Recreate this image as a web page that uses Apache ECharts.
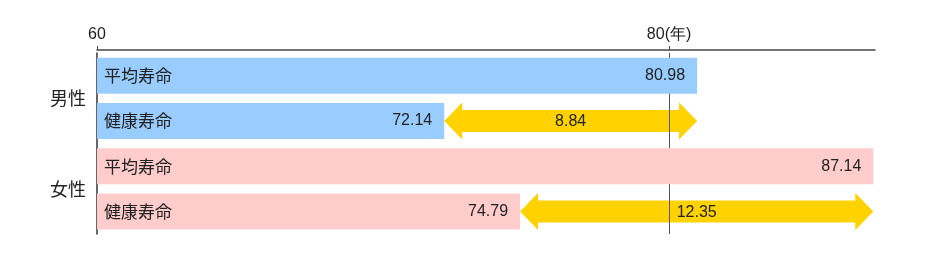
<!DOCTYPE html>
<html>
<head>
<meta charset="utf-8">
<script src="https://cdn.jsdelivr.net/npm/echarts@6/dist/echarts.min.js"></script>
<style>html,body{margin:0;padding:0;background:#fff;}#c{width:935px;height:274px;}</style>
</head>
<body>
<div id="c"></div>
<script>
// ---- data ----
const groups = ['男性', '女性'];
const measures = ['平均寿命', '健康寿命'];
const lifeExpectancy = [80.98, 87.14];
const healthyLife = [72.14, 74.79];
const gaps = [8.84, 12.35];
const xTicks = [60, 80];
const xUnit = '(年)';

// ---- build rows ----
const rowNames = [];
const rowValues = [];
const rowGroup = [];
groups.forEach((g, i) => {
  rowNames.push(g + measures[0]); rowValues.push(lifeExpectancy[i]); rowGroup.push(i);
  rowNames.push(g + measures[1]); rowValues.push(healthyLife[i]); rowGroup.push(i);
});
const rowLabels = rowNames.map((n, i) => measures[i % 2]);
const groupColors = ['#99CCFF', '#FFCCCC'];
const arrowData = groups.map((g, i) => [healthyLife[i], lifeExpectancy[i], i * 2 + 1, gaps[i]]);

const jpFont = "'Noto Sans CJK JP', sans-serif";
const numFont = "'Liberation Sans', Arial, sans-serif";

const chart = echarts.init(document.getElementById('c'), null, {renderer: 'canvas'});
chart.setOption({
  animation: false,
  backgroundColor: '#fff',
  grid: {left: 97, right: 60, top: 53, height: 181},
  xAxis: {
    type: 'value', position: 'top', min: xTicks[0], max: 87.2, interval: xTicks[1] - xTicks[0],
    offset: 3,
    axisLine: {show: true, lineStyle: {color: '#444', width: 1.5}},
    axisTick: {show: true, length: 4, lineStyle: {color: '#444'}, customValues: xTicks},
    axisLabel: {
      show: true, margin: 7, color: '#222', fontSize: 16, fontFamily: numFont,
      customValues: xTicks,
      formatter: v => v === xTicks[1] ? v + xUnit : String(v)
    },
    splitLine: {show: false}
  },
  yAxis: [
    {
      type: 'category', data: rowNames, inverse: true,
      axisLine: {show: true, lineStyle: {color: '#333', width: 1.5}},
      axisTick: {show: false}, axisLabel: {show: false}, splitLine: {show: false}
    },
    {
      type: 'category', data: groups, inverse: true, position: 'left',
      axisLine: {show: false}, axisTick: {show: false},
      axisLabel: {show: true, margin: 11, color: '#222', fontSize: 18, fontFamily: jpFont}
    }
  ],
  series: [
    {
      type: 'bar', yAxisIndex: 0, barWidth: 36, z: 6,
      data: rowValues.map((v, i) => ({value: v, itemStyle: {color: groupColors[rowGroup[i]]}})),
      label: {
        show: true, position: 'insideLeft', distance: 7, color: '#222',
        fontSize: 17, fontFamily: jpFont,
        formatter: p => rowLabels[p.dataIndex]
      }
    },
    {
      type: 'bar', yAxisIndex: 0, barWidth: 36, barGap: '-100%', z: 7,
      data: rowValues,
      itemStyle: {color: 'rgba(0,0,0,0)'},
      label: {
        show: true, position: 'insideRight', distance: 12, color: '#222',
        fontSize: 16, fontFamily: numFont,
        formatter: p => p.value.toFixed(2)
      }
    },
    {
      type: 'custom', yAxisIndex: 0, z: 4, clip: false,
      data: arrowData,
      renderItem: (params, api) => {
        const s = api.coord([api.value(0), api.value(2)]);
        const e = api.coord([api.value(1), api.value(2)]);
        const cy = s[1], sx = s[0], ex = e[0];
        const hl = 18, hh = 18.5, bh = 11;
        const pts = [
          [sx, cy], [sx + hl, cy - hh], [sx + hl, cy - bh], [ex - hl, cy - bh], [ex - hl, cy - hh],
          [ex, cy], [ex - hl, cy + hh], [ex - hl, cy + bh], [sx + hl, cy + bh], [sx + hl, cy + hh]
        ];
        return {
          type: 'group',
          children: [
            {type: 'polygon', shape: {points: pts}, style: {fill: '#FFD200'}},
            {type: 'text', style: {
              x: (sx + ex) / 2, y: cy + 1, text: api.value(3).toFixed(2),
              align: 'center', verticalAlign: 'middle', fill: '#222',
              font: '16px ' + numFont
            }}
          ]
        };
      }
    },
    {
      type: 'line', yAxisIndex: 0, z: 5, data: [], silent: true,
      markLine: {
        silent: true, symbol: 'none', animation: false,
        label: {show: false},
        lineStyle: {color: '#555', width: 1, type: 'solid'},
        data: [{xAxis: xTicks[1]}]
      }
    }
  ]
});
</script>
</body>
</html>
